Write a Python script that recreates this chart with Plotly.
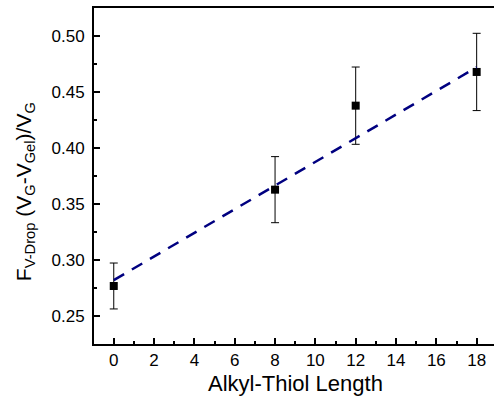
import numpy as np
import plotly.graph_objects as go

# Measured fraction of voltage drop vs. alkyl-thiol chain length
chain_length = [0, 8, 12, 18]
f_vdrop = [0.2768, 0.3628, 0.4378, 0.4679]
f_vdrop_err = [0.0205, 0.0295, 0.0345, 0.0345]

# Linear fit parameters and the span it is drawn over
fit_intercept = 0.2820
fit_slope = 0.01056
fit_span = [0, 18]

x_ticks = [0, 2, 4, 6, 8, 10, 12, 14, 16, 18]
y_ticks = [0.25, 0.30, 0.35, 0.40, 0.45, 0.50]

FONT = "Liberation Sans, Arial, sans-serif"

fit_x = np.array(fit_span, dtype=float)
fit_y = fit_intercept + fit_slope * fit_x

fig = go.Figure()

fig.add_trace(go.Scatter(
    x=chain_length, y=f_vdrop,
    mode="markers",
    marker=dict(symbol="square", size=8, color="black"),
    error_y=dict(type="data", array=f_vdrop_err, visible=True,
                 color="black", thickness=1, width=4),
    showlegend=False,
))

fig.add_trace(go.Scatter(
    x=fit_x, y=fit_y,
    mode="lines",
    line=dict(color="#000080", width=2.5, dash="12px,9px"),
    showlegend=False,
))

axis_common = dict(
    showgrid=False, zeroline=False,
    showline=True, linecolor="black", linewidth=2,
    ticks="inside", ticklen=6, tickwidth=2, tickcolor="black",
    tickfont=dict(family=FONT, size=17, color="black"),
)

fig.update_xaxes(
    **axis_common,
    range=[-0.98, 18.86],
    tickvals=x_ticks,
    mirror=True,
    minor=dict(ticks="inside", dtick=1, tick0=0, ticklen=3, tickwidth=2,
               tickcolor="black"),
)

fig.update_yaxes(
    **axis_common,
    range=[0.225, 0.525],
    tickvals=y_ticks,
    tickformat=".2f",
    ticklabelstandoff=4,
    minor=dict(ticks="inside", dtick=0.025, tick0=0.225, ticklen=3,
               tickwidth=2, tickcolor="black"),
)

fig.add_annotation(
    text="Alkyl-Thiol Length",
    xref="paper", yref="paper", x=0.5025, y=-0.075,
    xanchor="center", yanchor="top", showarrow=False,
    font=dict(family=FONT, size=22, color="black"),
)

fig.add_annotation(
    text="F<sub>V-Drop</sub> (V<sub>G</sub>-V<sub>Gel</sub>)/V<sub>G</sub>",
    xref="paper", yref="paper", x=-0.1725, y=0.452,
    xanchor="center", yanchor="middle", textangle=-90, showarrow=False,
    font=dict(family=FONT, size=21, color="black"),
)

fig.update_layout(
    width=494, height=400,
    margin=dict(l=94, r=0, t=8, b=56),
    paper_bgcolor="white", plot_bgcolor="white",
)

fig.write_html("out.html")
